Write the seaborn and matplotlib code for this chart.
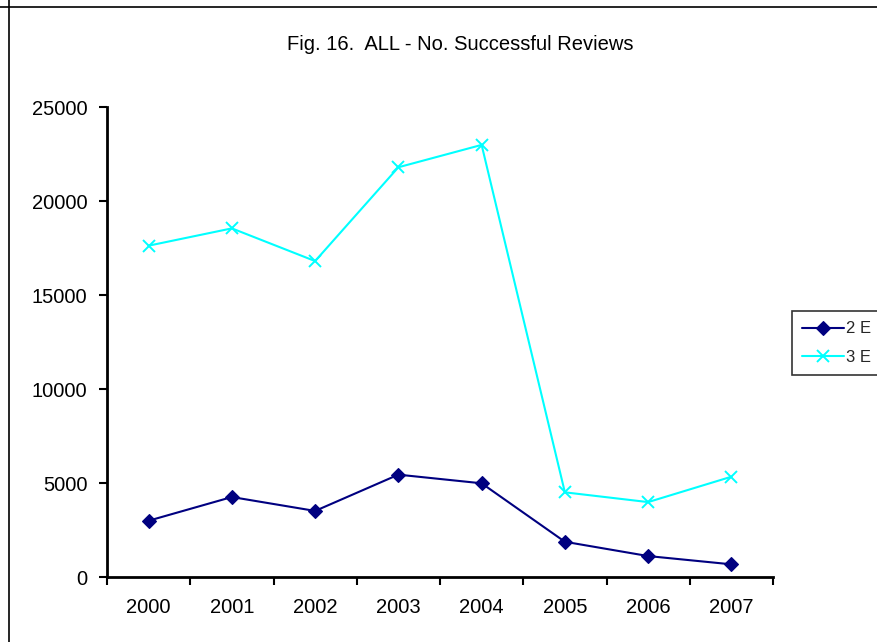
import matplotlib
matplotlib.use("Agg")
import matplotlib.pyplot as plt
from matplotlib.lines import Line2D
from matplotlib.ticker import FixedLocator, NullFormatter
import seaborn as sns
import pandas as pd

years = ["2000", "2001", "2002", "2003", "2004", "2005", "2006", "2007"]
series_2e = [3010, 4270, 3530, 5460, 5000, 1890, 1130, 690]
series_3e = [17640, 18560, 16820, 21810, 23000, 4520, 4000, 5350]
series_names = ["2 E", "3 E"]
y_ticks = [0, 5000, 10000, 15000, 20000, 25000]
title = "Fig. 16.  ALL - No. Successful Reviews"

df = pd.DataFrame({
    "pos": list(range(len(years))) * 2,
    "value": series_2e + series_3e,
    "series": [series_names[0]] * len(years) + [series_names[1]] * len(years),
})

sns.set_theme(style="white")
plt.rcParams["font.family"] = ["Liberation Sans", "DejaVu Sans"]

W, H = 878, 642
fig = plt.figure(figsize=(W / 100, H / 100), dpi=100)
ax = fig.add_axes([107 / W, 1 - 577.3 / H, (773 - 107) / W, (577.3 - 107.3) / H])

styles = {
    "2 E": dict(color="#000080", marker="D", markersize=7, markeredgewidth=0.8,
                markeredgecolor="#000080", markerfacecolor="#000080"),
    "3 E": dict(color="#00FFFF", marker="x", markersize=8, markeredgewidth=1.4,
                markeredgecolor="#00FFFF"),
}
for name in series_names:
    sub = df[df["series"] == name]
    sns.lineplot(data=sub, x="pos", y="value", ax=ax, linewidth=1.5, label=name,
                 **styles[name])

ax.set_xlim(-0.5, len(years) - 0.5)
ax.set_ylim(0, 25000)
ax.set_yticks(y_ticks)
ax.set_yticklabels([str(v) for v in y_ticks])
ax.set_xticks(range(len(years)))
ax.set_xticklabels(years)
ax.xaxis.set_minor_locator(FixedLocator([i - 0.5 for i in range(len(years) + 1)]))
ax.xaxis.set_minor_formatter(NullFormatter())
ax.tick_params(axis="x", which="major", length=0, pad=15, labelsize=14.5, colors="black")
ax.tick_params(axis="x", which="minor", length=6, width=1.5, direction="out", color="black", bottom=True)
ax.tick_params(axis="y", which="major", length=6, width=1.5, direction="out", pad=8,
               labelsize=14.5, colors="black", left=True)
ax.set_xlabel("")
ax.set_ylabel("")
for side in ["top", "right"]:
    ax.spines[side].set_visible(False)
for side in ["left", "bottom"]:
    ax.spines[side].set_color("black")
    ax.spines[side].set_linewidth(2)
ax.grid(False)

leg = ax.legend(
    loc="center left", bbox_to_anchor=(792 / W, 1 - 343 / H), bbox_transform=fig.transFigure,
    frameon=True, fancybox=False, shadow=False, fontsize=12, handlelength=2.5,
    handletextpad=0.15, borderpad=0.6, labelspacing=0.8, borderaxespad=0,
)
leg.get_frame().set_edgecolor("black")
leg.get_frame().set_linewidth(1.2)

fig.text(460 / W, 1 - 44 / H, title, ha="center", va="center", fontsize=14.5, color="black")

# chart-area border edges
fig.add_artist(Line2D([8.5 / W, 8.5 / W], [0, 1], transform=fig.transFigure, color="black", linewidth=1.2))
fig.add_artist(Line2D([0, 1], [1 - 7 / H, 1 - 7 / H], transform=fig.transFigure, color="black", linewidth=1.2))

fig.savefig("out.png", dpi=100)
